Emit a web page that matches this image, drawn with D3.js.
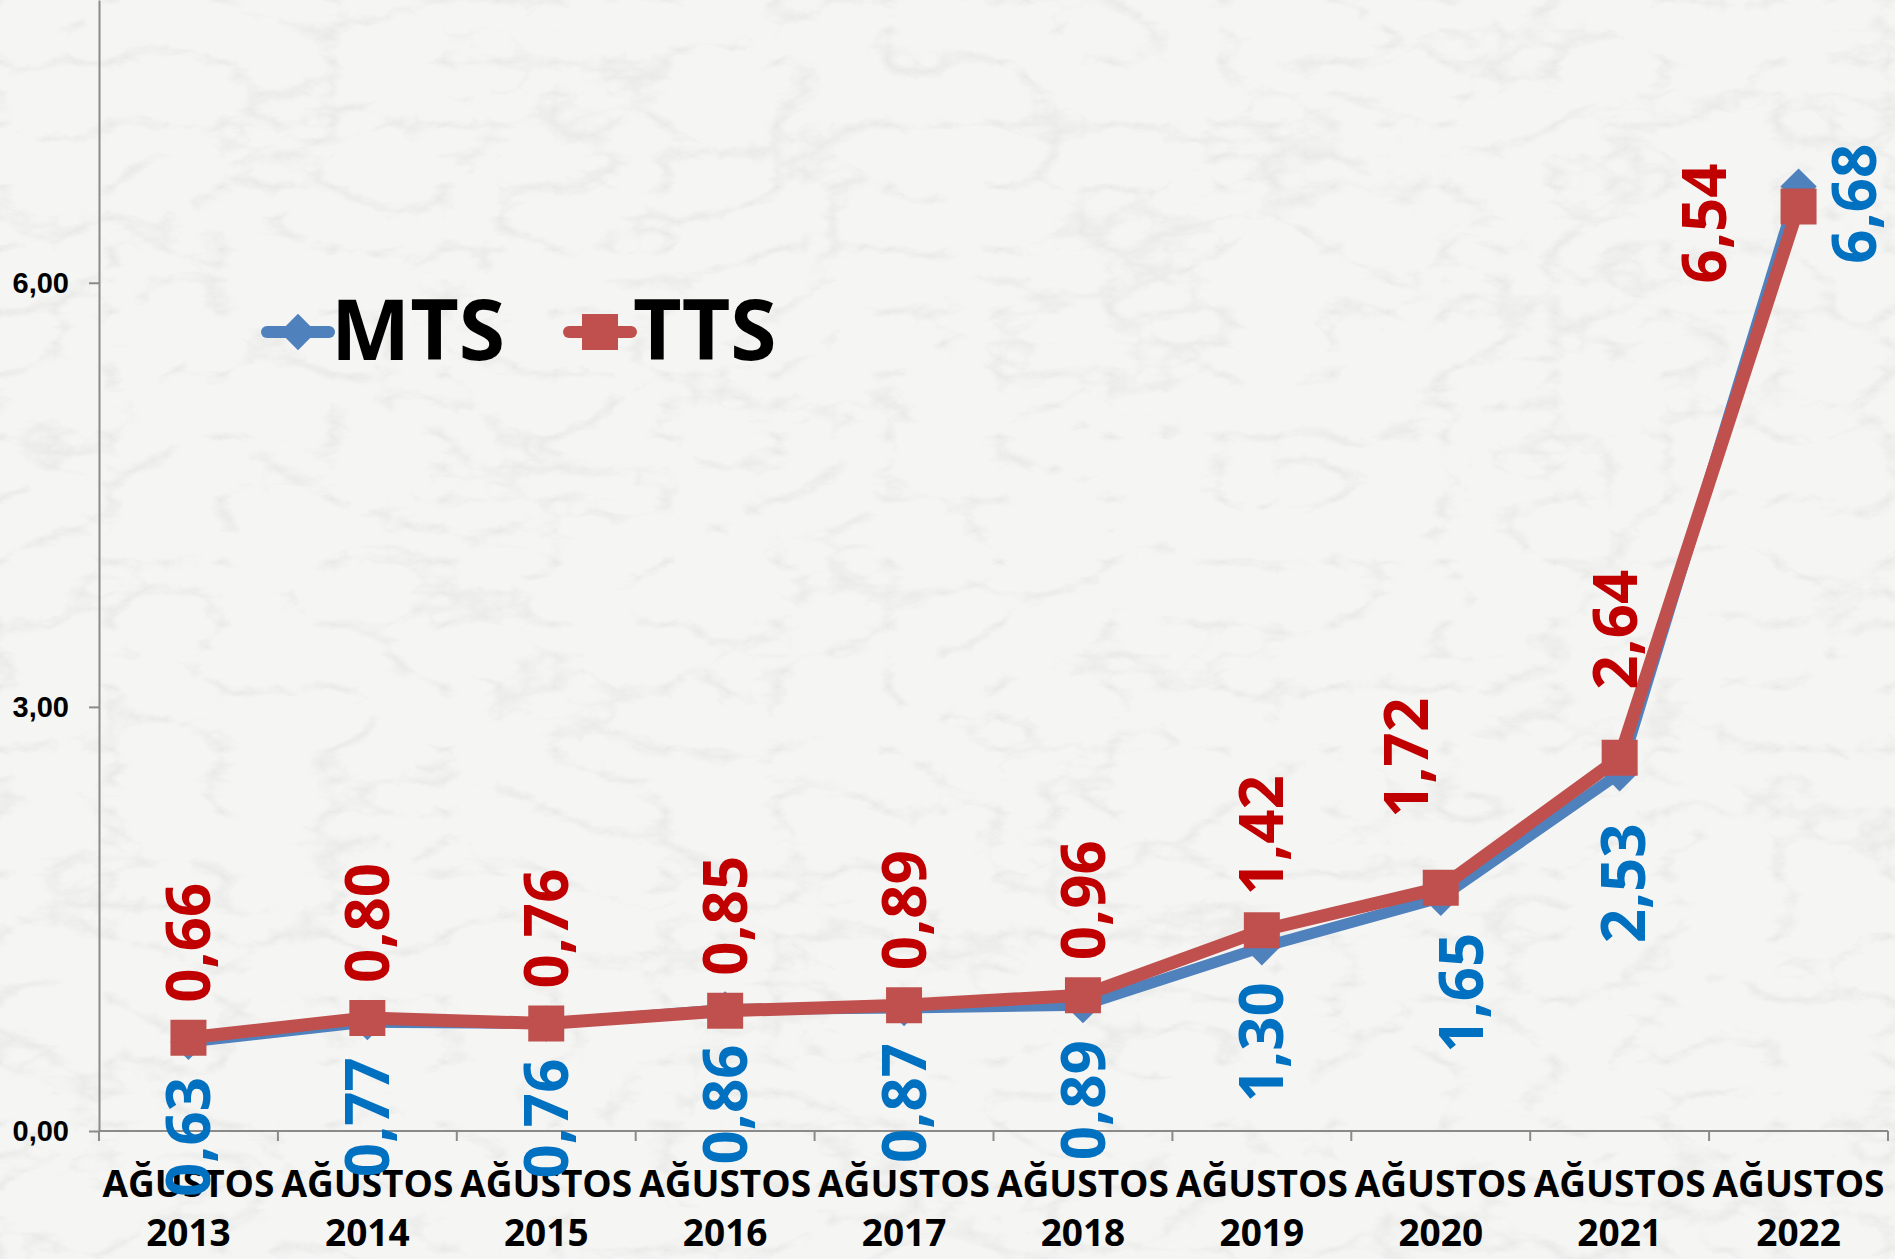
<!DOCTYPE html>
<html>
<head>
<meta charset="utf-8">
<script src="https://cdn.jsdelivr.net/npm/d3@7"></script>
<style>
  html, body { margin: 0; padding: 0; background: #f4f4f4; }
  svg { display: block; font-family: "Open Sans", sans-serif; }
  .axis path, .axis line { stroke: #8a8a8a; stroke-width: 2; }
  .tick text { font-weight: 700; fill: #000; }
</style>
</head>
<body>
<svg id="chart" width="1895" height="1259"></svg>
<script>
// chart values
const years = ['2013', '2014', '2015', '2016', '2017', '2018', '2019', '2020', '2021', '2022'];
const categories = years.map(y => 'AĞUSTOS ' + y);
const mts = [0.63, 0.77, 0.76, 0.86, 0.87, 0.89, 1.30, 1.65, 2.53, 6.68];
const tts = [0.66, 0.80, 0.76, 0.85, 0.89, 0.96, 1.42, 1.72, 2.64, 6.54];
const yTicks = [0, 3, 6];

// label placement tweaks (the original had a few labels dragged by hand)
const ttsNudge = {7: {dx: -34, dy: -35}, 8: {dx: -4, dy: -33}};
const mtsNudge = {7: {dx: 21, dy: 0}, 8: {dx: 4, dy: 15}};

const chart = d3.select('#chart');
const width = +chart.attr('width');
const height = +chart.attr('height');

// marble-ish paper background
const defs = chart.append('defs');
const marble = defs.append('filter').attr('id', 'marble')
  .attr('x', 0).attr('y', 0).attr('width', '100%').attr('height', '100%');
marble.append('feTurbulence').attr('type', 'turbulence')
  .attr('baseFrequency', '0.009 0.016').attr('numOctaves', 5).attr('seed', 11);
marble.append('feColorMatrix').attr('type', 'matrix')
  .attr('values', '0 0 0 0 0.62  0 0 0 0 0.62  0 0 0 0 0.6  -2.2 0 0 0 0.55');
chart.append('rect').attr('width', width).attr('height', height).attr('fill', '#f5f5f4');
chart.append('rect').attr('width', width).attr('height', height)
  .attr('fill', '#fff').attr('filter', 'url(#marble)').attr('opacity', 0.6);

const x = d3.scaleBand().domain(categories).range([99, 1888]).paddingInner(0).paddingOuter(0);
const cx = c => x(c) + x.bandwidth() / 2;
const y = d3.scaleLinear().domain([0, 8]).range([1131, 0]);
const fmt = v => d3.format('.2f')(v).replace('.', ',');

// y axis
const yAxis = d3.axisLeft(y).tickValues(yTicks).tickFormat(fmt).tickSize(10).tickSizeOuter(0).tickPadding(20);
chart.append('g').attr('class', 'axis axis--y')
  .attr('transform', 'translate(99,0)')
  .call(yAxis)
  .call(g => g.selectAll('.tick text').attr('font-size', 29));

// x axis: baseline + ticks between categories
const xAxis = chart.append('g').attr('class', 'axis axis--x');
xAxis.append('line').attr('x1', 99).attr('x2', 1888).attr('y1', y(0)).attr('y2', y(0));
xAxis.selectAll('.xtick').data(categories).join('line')
  .attr('class', 'xtick')
  .attr('x1', d => x(d) + x.bandwidth()).attr('x2', d => x(d) + x.bandwidth())
  .attr('y1', y(0)).attr('y2', y(0) + 10);
xAxis.append('line').attr('x1', 99).attr('x2', 99).attr('y1', y(0)).attr('y2', y(0) + 10);

const xLabels = chart.append('g').selectAll('text').data(categories).join('text')
  .attr('x', d => cx(d)).attr('text-anchor', 'middle')
  .attr('font-size', 37).attr('font-weight', 700).attr('fill', '#000');
xLabels.append('tspan').attr('x', d => cx(d)).attr('y', 1197).text(d => d.split(' ')[0]);
xLabels.append('tspan').attr('x', d => cx(d)).attr('y', 1246).text(d => d.split(' ')[1]);

// series
const series = [
  {name: 'MTS', values: mts, line: '#4f81bd', label: '#0070c0', marker: 'diamond', width: 11, nudge: mtsNudge, below: true},
  {name: 'TTS', values: tts, line: '#c0504d', label: '#c00000', marker: 'square', width: 13, nudge: ttsNudge, below: false}
];
const diamond = d3.symbol(d3.symbolSquare, 660);
const square = d3.symbol(d3.symbolSquare, 1296);
const lineGen = d3.line().x((d, i) => cx(categories[i])).y(d => y(d));

series.forEach(s => {
  chart.append('path').attr('d', lineGen(s.values))
    .attr('fill', 'none').attr('stroke', s.line).attr('stroke-width', s.width)
    .attr('stroke-linejoin', 'round');
  chart.append('g').selectAll('path').data(s.values).join('path')
    .attr('d', s.marker === 'diamond' ? diamond : square)
    .attr('fill', s.line)
    .attr('transform', (d, i) => `translate(${cx(categories[i])},${y(d)})` + (s.marker === 'diamond' ? ' rotate(45)' : ''));
});

// data labels, rotated
const gap = 35;
series.forEach(s => {
  chart.append('g').selectAll('text').data(s.values).join('text')
    .attr('font-size', 60).attr('font-weight', 700).attr('fill', s.label)
    .attr('dy', '0.36em')
    .attr('text-anchor', (d, i) => i === s.values.length - 1 ? 'middle' : (s.below ? 'end' : 'start'))
    .attr('transform', (d, i) => {
      const n = s.nudge[i] || {dx: 0, dy: 0};
      let px = cx(categories[i]) + n.dx;
      let py = y(d);
      if (i === s.values.length - 1) {
        px += s.below ? 56 : -94;
        py += 17;
      } else {
        py += s.below ? gap + n.dy : -gap + n.dy;
      }
      return `translate(${px},${py}) rotate(-90)`;
    })
    .text(d => fmt(d));
});

// legend
const legend = chart.append('g');
const legendItems = [
  {s: series[0], lx: 267, text: 'MTS'},
  {s: series[1], lx: 569, text: 'TTS'}
];
legendItems.forEach(({s, lx, text}) => {
  legend.append('line').attr('x1', lx).attr('x2', lx + 62).attr('y1', 332).attr('y2', 332)
    .attr('stroke', s.line).attr('stroke-width', 12).attr('stroke-linecap', 'round');
  legend.append('path').attr('d', s.marker === 'diamond' ? diamond : square)
    .attr('fill', s.line)
    .attr('transform', `translate(${lx + 31},332)` + (s.marker === 'diamond' ? ' rotate(45)' : ''));
  legend.append('text').attr('x', lx + 64).attr('y', 360)
    .attr('font-size', 84).attr('font-weight', 700).attr('fill', '#000')
    .text(text);
});
</script>
</body>
</html>
